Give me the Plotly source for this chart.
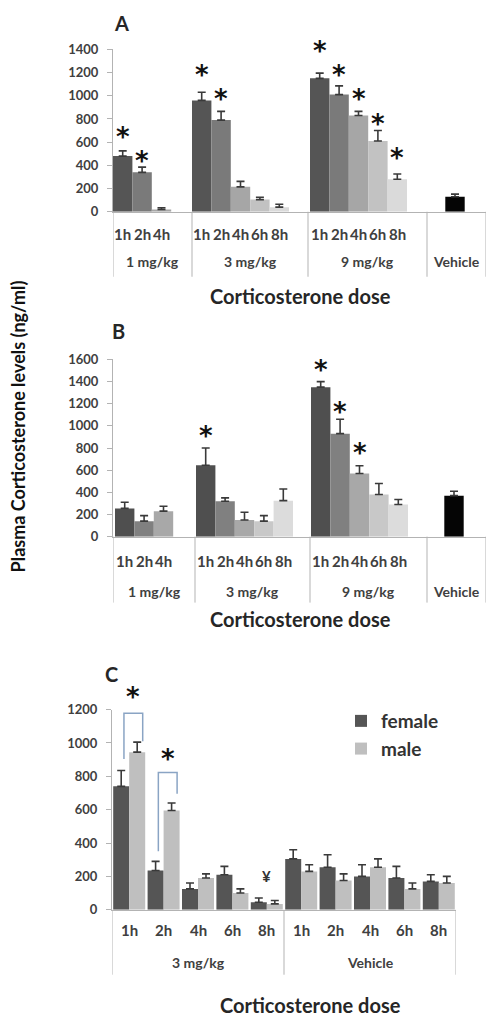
import plotly.graph_objects as go

W, H = 488, 1028

# ---------------- data ----------------
time_labels = ["1h", "2h", "4h", "6h", "8h"]
dose_labels = ["1 mg/kg", "3 mg/kg", "9 mg/kg"]
vehicle_label = "Vehicle"

# Panel A
a_1mg = [480, 340, 20]
a_1mg_err = [525, 385, 35]
a_3mg = [960, 790, 215, 105, 40]
a_3mg_err = [1030, 865, 262, 125, 65]
a_9mg = [1150, 1010, 830, 610, 280]
a_9mg_err = [1195, 1085, 865, 700, 325]
a_vehicle = 130
a_vehicle_err = 152
a_star_1mg = [690, 485, None]
a_star_3mg = [1222, 1018, None, None, None]
a_star_9mg = [1425, 1222, 1018, 798, 509]

# Panel B
b_1mg = [255, 140, 230]
b_1mg_err = [310, 190, 275]
b_3mg = [645, 320, 150, 140, 325]
b_3mg_err = [800, 350, 220, 190, 430]
b_9mg = [1350, 930, 570, 380, 290]
b_9mg_err = [1400, 1060, 640, 480, 335]
b_vehicle = 370
b_vehicle_err = 410
b_star_1mg = [None, None, None]
b_star_3mg = [951, None, None, None, None]
b_star_9mg = [1547, 1173, 803, None, None]

# Panel C
c_groups = ["3 mg/kg", "Vehicle"]
c_female = [740, 235, 125, 210, 45, 305, 255, 200, 190, 170]
c_female_err = [835, 290, 160, 260, 70, 360, 330, 270, 260, 210]
c_male = [945, 595, 190, 100, 35, 230, 175, 255, 125, 160]
c_male_err = [1005, 640, 215, 125, 55, 270, 215, 305, 160, 200]
c_bracket_top = [1178, 823]
c_bracket_left = [904, 350]
c_bracket_right = [1010, 695]
c_star = [1306, 934]
c_yen_level = 203

# ---------------- styling ----------------
FONT = "Lato"
TXT = "#262626"
TICK = "#404040"
AXIS = "#b3b3b3"
ERR = "#3a3a3a"
shadesA = ["#555555", "#7a7a7a", "#a6a6a6", "#c2c2c2", "#dadada"]
shadesB = ["#4f4f4f", "#808080", "#a8a8a8", "#c8c8c8", "#dcdcdc"]
FEMALE = "#555555"
MALE = "#bfbfbf"
STAR_FONT = dict(family="DejaVu Sans", size=26, color="#111111", weight="bold")


def py(p):
    return 1 - p / H


def px(p):
    return p / W


def val_to_paper(v, top, bottom, ymax):
    return py(bottom) + v / ymax * (py(top) - py(bottom))


fig = go.Figure()
annotations = []
shapes = []

U = 19.4
X0 = 113
XEND = 486


def u(p):
    return (p - X0) / U


panel_cfg = {
    "A": dict(xa="x", ya="y", starts=[u(113), u(192), u(310)], veh=u(455),
              dividers=[u(113), u(192), u(308), u(427), u(486)],
              top=42, bottom=207, ymax=1400, dtick=200,
              lab_time=230, lab_dose=258, div_bot=273, title_y=293, letter=(112, 15),
              data=[(a_1mg, a_1mg_err, a_star_1mg), (a_3mg, a_3mg_err, a_star_3mg),
                    (a_9mg, a_9mg_err, a_star_9mg)],
              veh_v=(a_vehicle, a_vehicle_err), shades=shadesA),
    "B": dict(xa="x2", ya="y2", starts=[u(115), u(196), u(311)], veh=u(454),
              dividers=[u(113), u(195), u(310), u(427), u(486)],
              top=357, bottom=537, ymax=1600, dtick=200,
              lab_time=562, lab_dose=593, div_bot=604, title_y=621, letter=(110, 328),
              data=[(b_1mg, b_1mg_err, b_star_1mg), (b_3mg, b_3mg_err, b_star_3mg),
                    (b_9mg, b_9mg_err, b_star_9mg)],
              veh_v=(b_vehicle, b_vehicle_err), shades=shadesB),
}

for name, cfg in panel_cfg.items():
    for t in range(5):
        xs, ys, es = [], [], []
        for g, (vals, errs, stars) in enumerate(cfg["data"]):
            if t < len(vals):
                xc = cfg["starts"][g] + t + 0.5
                xs.append(xc)
                ys.append(vals[t])
                es.append(errs[t] - vals[t])
                if stars[t] is not None:
                    annotations.append(dict(
                        x=xc, y=val_to_paper(stars[t], cfg["top"], cfg["bottom"], cfg["ymax"]),
                        xref=cfg["xa"], yref="paper", text="*", showarrow=False,
                        yanchor="middle", yshift=-5, font=STAR_FONT))
        fig.add_trace(go.Bar(x=xs, y=ys, width=1.0, xaxis=cfg["xa"], yaxis=cfg["ya"],
                             marker=dict(color=cfg["shades"][t], line=dict(width=0)),
                             error_y=dict(type="data", symmetric=False, array=es,
                                          arrayminus=[0] * len(es), color=ERR,
                                          thickness=1.6, width=4),
                             showlegend=False, hoverinfo="skip"))
    vv, ve = cfg["veh_v"]
    fig.add_trace(go.Bar(x=[cfg["veh"]], y=[vv], width=1.0, xaxis=cfg["xa"], yaxis=cfg["ya"],
                         marker=dict(color="#050505", line=dict(width=0)),
                         error_y=dict(type="data", symmetric=False, array=[ve - vv],
                                      arrayminus=[0], color=ERR, thickness=1.6, width=4),
                         showlegend=False, hoverinfo="skip"))
    for g, (vals, _, _) in enumerate(cfg["data"]):
        for t in range(len(vals)):
            annotations.append(dict(x=cfg["starts"][g] + t + 0.5, y=py(cfg["lab_time"]),
                                    xref=cfg["xa"], yref="paper", text=time_labels[t],
                                    showarrow=False, yanchor="middle",
                                    font=dict(family=FONT, size=15, color=TICK, weight="bold")))
    divs = cfg["dividers"]
    for g, lab in enumerate(dose_labels + [vehicle_label]):
        annotations.append(dict(x=(divs[g] + divs[g + 1]) / 2, y=py(cfg["lab_dose"]),
                                xref=cfg["xa"], yref="paper", text=lab, showarrow=False,
                                yanchor="middle",
                                font=dict(family=FONT, size=14, color=TICK, weight="bold")))
    for d in divs:
        shapes.append(dict(type="line", xref=cfg["xa"], yref="paper", x0=d, x1=d,
                           y0=py(cfg["bottom"]), y1=py(cfg["div_bot"]),
                           line=dict(color=AXIS, width=1)))
    annotations.append(dict(x=px(300), y=py(cfg["title_y"]), xref="paper", yref="paper",
                            text="Corticosterone dose", showarrow=False, yanchor="middle",
                            font=dict(family=FONT, size=20, color=TXT, weight="bold")))
    annotations.append(dict(x=px(cfg["letter"][0]), y=py(cfg["letter"][1]), xref="paper",
                            yref="paper", text=name, showarrow=False, yanchor="middle",
                            font=dict(family=FONT, size=20, color=TXT, weight="bold")))

# ---------------- Panel C ----------------
CX0, CX1 = 112, 456
C_TOP, C_BOT, C_MAX = 712.7, 916, 1200
bw = 0.465
n = len(c_female)
xf = [i + 0.5 - bw / 2 for i in range(n)]
xm = [i + 0.5 + bw / 2 for i in range(n)]
fig.add_trace(go.Bar(x=xf, y=c_female, width=bw, xaxis="x3", yaxis="y3", name="female",
                     marker=dict(color=FEMALE, line=dict(width=0)),
                     error_y=dict(type="data", symmetric=False,
                                  array=[e - v for e, v in zip(c_female_err, c_female)],
                                  arrayminus=[0] * n, color=ERR, thickness=1.6, width=4),
                     hoverinfo="skip"))
fig.add_trace(go.Bar(x=xm, y=c_male, width=bw, xaxis="x3", yaxis="y3", name="male",
                     marker=dict(color=MALE, line=dict(width=0)),
                     error_y=dict(type="data", symmetric=False,
                                  array=[e - v for e, v in zip(c_male_err, c_male)],
                                  arrayminus=[0] * n, color=ERR, thickness=1.6, width=4),
                     hoverinfo="skip"))

BR = "#8aa4c4"
for i in range(len(c_bracket_top)):
    xl = xf[i] + 0.08
    xr = xm[i] + 0.16
    shapes.append(dict(type="path", xref="x3", yref="y3",
                       path=f"M {xl},{c_bracket_left[i]} L {xl},{c_bracket_top[i]} "
                            f"L {xr},{c_bracket_top[i]} L {xr},{c_bracket_right[i]}",
                       line=dict(color=BR, width=1.5)))
    annotations.append(dict(x=(xl + xr) / 2, y=val_to_paper(c_star[i], C_TOP, C_BOT, C_MAX),
                            xref="x3", yref="paper", text="*", showarrow=False,
                            yanchor="middle", yshift=-5, font=STAR_FONT))
annotations.append(dict(x=4.5, y=c_yen_level, xref="x3", yref="y3", text="¥", showarrow=False,
                        yanchor="middle",
                        font=dict(family=FONT, size=15, color="#333333", weight="bold")))

for i in range(n):
    annotations.append(dict(x=i + 0.5, y=py(937), xref="x3", yref="paper",
                            text=time_labels[i % 5], showarrow=False, yanchor="middle",
                            font=dict(family=FONT, size=15, color=TICK, weight="bold")))
for g, lab in enumerate(c_groups):
    annotations.append(dict(x=5 * g + 2.5, y=py(970), xref="x3", yref="paper", text=lab,
                            showarrow=False, yanchor="middle",
                            font=dict(family=FONT, size=14, color=TICK, weight="bold")))
for d in [0, 5, 10]:
    shapes.append(dict(type="line", xref="x3", yref="paper", x0=d, x1=d,
                       y0=py(C_BOT), y1=py(982), line=dict(color=AXIS, width=1)))
annotations.append(dict(x=px(310), y=py(1013), xref="paper", yref="paper",
                        text="Corticosterone dose", showarrow=False, yanchor="middle",
                        font=dict(family=FONT, size=20, color=TXT, weight="bold")))
annotations.append(dict(x=px(103), y=py(677), xref="paper", yref="paper", text="C",
                        showarrow=False, yanchor="middle",
                        font=dict(family=FONT, size=20, color=TXT, weight="bold")))

annotations.append(dict(x=px(18), y=py(425), xref="paper", yref="paper",
                        text="Plasma Corticosterone levels (ng/ml)", showarrow=False,
                        textangle=-90, xanchor="center", yanchor="middle",
                        font=dict(family=FONT, size=18, color="#111111", weight="bold")))


def yax(domain_top, domain_bot, ymax, dtick, anchor):
    return dict(domain=[py(domain_bot), py(domain_top)], range=[0, ymax], dtick=dtick,
                anchor=anchor, showgrid=False, zeroline=False, showline=True,
                linecolor=AXIS, linewidth=1, ticks="outside", ticklen=5, tickcolor=AXIS,
                ticklabelstandoff=6,
                tickfont=dict(family=FONT, size=13, color=TICK, weight="bold"))


def xax(x0, x1, rng, anchor):
    return dict(domain=[px(x0), px(x1)], range=rng, anchor=anchor, showgrid=False,
                zeroline=False, showline=True, linecolor=AXIS, linewidth=1,
                showticklabels=False, ticks="")


fig.update_layout(
    width=W, height=H, margin=dict(l=0, r=0, t=0, b=0),
    paper_bgcolor="white", plot_bgcolor="white", barmode="overlay",
    xaxis=xax(X0, XEND, [0, u(XEND)], "y"),
    yaxis=yax(42, 207, 1400, 200, "x"),
    xaxis2=xax(X0, XEND, [0, u(XEND)], "y2"),
    yaxis2=yax(357, 537, 1600, 200, "x2"),
    xaxis3=xax(CX0, CX1, [0, 10], "y3"),
    yaxis3=yax(C_TOP, C_BOT, C_MAX, 200, "x3"),
    legend=dict(x=px(341), y=py(705), xanchor="left", yanchor="top",
                bgcolor="rgba(0,0,0,0)", itemwidth=30, tracegroupgap=2,
                font=dict(family=FONT, size=19, color="#333333", weight="bold")),
    annotations=annotations, shapes=shapes,
)

fig.write_html("out.html", config={"displayModeBar": False},
               post_script="document.body.style.margin='0';document.body.style.padding='0';")
